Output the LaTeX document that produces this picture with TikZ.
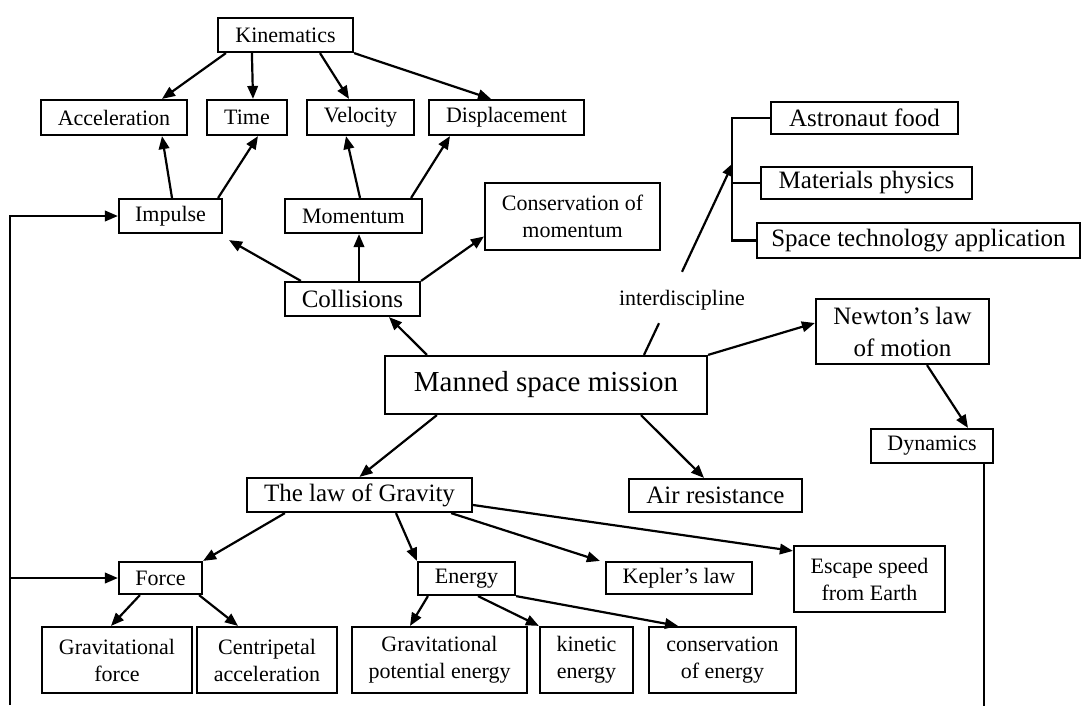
\documentclass[tikz,border=0pt]{standalone}
\usepackage{fontspec}
\setmainfont{Liberation Serif}
\usetikzlibrary{arrows.meta}

\tikzset{
    box/.style={draw, line width=2.2pt, inner sep=0pt, align=center,
        font=\fontsize{22}{27}\selectfont},
    bigbox/.style={box, font=\fontsize{25}{32}\selectfont},
    arr/.style={line width=2.2pt, -{Triangle[length=13pt,width=10.5pt]}},
    link/.style={line width=2.2pt},
}

\begin{document}
\begin{tikzpicture}[x=1pt, y=-1pt]
    \useasboundingbox (0,0) rectangle (1083,705);

    % Central node
    \node[box, font=\fontsize{29}{34}\selectfont, minimum width=322pt, minimum height=58pt] (main) at (546,385) {Manned space mission};

    % Kinematics branch
    \node[box, minimum width=135pt, minimum height=34pt] (kin) at (285.5,35) {Kinematics};
    \node[box, minimum width=146pt, minimum height=35pt] (acc) at (114,117.5) {Acceleration};
    \node[box, minimum width=80pt, minimum height=35pt] (time) at (247,117.5) {Time};
    \node[box, minimum width=107pt, minimum height=35pt] (vel) at (360.5,117.5) {Velocity};
    \node[box, minimum width=155pt, minimum height=35pt] (disp) at (506.5,117.5) {Displacement};
    \node[box, minimum width=103pt, minimum height=34pt] (imp) at (170.5,216) {Impulse};
    \node[box, minimum width=137pt, minimum height=34pt] (mom) at (353.5,216) {Momentum};
    \node[box, minimum width=175pt, minimum height=67pt] (cons) at (572.5,216.5) {Conservation of\\momentum};
    \node[bigbox, minimum width=135pt, minimum height=34pt] (coll) at (352.5,299) {Collisions};

    % Interdiscipline branch
    \node[bigbox, minimum width=187pt, minimum height=32pt] (food) at (864.5,118) {Astronaut food};
    \node[bigbox, minimum width=211pt, minimum height=32pt] (mat) at (866.5,183) {Materials physics};
    \node[bigbox, minimum width=323pt, minimum height=35pt] (tech) at (918.5,240.5) {Space technology application};
    \node[font=\fontsize{22}{26}\selectfont, inner sep=0pt] (inter) at (682,300) {interdiscipline};
    \coordinate (brk) at (733,163);

    % Dynamics branch
    \node[bigbox, minimum width=173pt, minimum height=65pt] (newton) at (902.5,331.5) {Newton’s law\\of motion};
    \node[box, minimum width=122pt, minimum height=34pt] (dyn) at (932,446) {Dynamics};
    \node[bigbox, minimum width=173pt, minimum height=33pt] (air) at (715.5,495.5) {Air resistance};

    % Gravity branch
    \node[bigbox, minimum width=225pt, minimum height=34pt] (grav) at (359.5,495) {The law of Gravity};
    \node[box, minimum width=83pt, minimum height=32pt] (force) at (160.5,578) {Force};
    \node[box, minimum width=97pt, minimum height=33pt] (energy) at (466.5,578.5) {Energy};
    \node[box, minimum width=146pt, minimum height=32pt] (kepler) at (679,578) {Kepler’s law};
    \node[box, minimum width=151pt, minimum height=66pt] (escape) at (869.5,579) {Escape speed\\from Earth};
    \node[box, minimum width=150pt, minimum height=66pt] (gforce) at (117,660) {Gravitational\\force};
    \node[box, minimum width=140pt, minimum height=66pt] (centr) at (267,660) {Centripetal\\acceleration};
    \node[box, minimum width=175pt, minimum height=66pt] (gpot) at (439.5,660) {Gravitational\\potential energy};
    \node[box, minimum width=93pt, minimum height=66pt] (kinetic) at (586.5,660) {kinetic\\energy};
    \node[box, minimum width=147pt, minimum height=66pt] (conserve) at (722.5,660) {conservation\\of energy};

    % Kinematics arrows
    \draw[arr] ([xshift=9pt]kin.south west) -- ([xshift=48pt]acc.north);
    \draw[arr] ([xshift=35pt]kin.south west) -- ([xshift=6pt]time.north);
    \draw[arr] ([xshift=34.5pt]kin.south) -- ([xshift=-11.5pt]vel.north);
    \draw[arr] (kin.south east) -- ([xshift=-15.5pt]disp.north);
    \draw[arr] ([xshift=1.5pt]imp.north) -- ([xshift=48pt]acc.south);
    \draw[arr] ([xshift=-5pt]imp.north east) -- ([xshift=11pt]time.south);
    \draw[arr] ([xshift=6.5pt]mom.north) -- ([xshift=-14.5pt]vel.south);
    \draw[arr] ([xshift=-12pt]mom.north east) -- ([xshift=-56.5pt]disp.south);

    % Collisions arrows
    \draw[arr] ([xshift=17pt]coll.north west) -- ([xshift=6pt,yshift=-6pt]imp.south east);
    \draw[arr] ([xshift=6.5pt]coll.north) -- ([xshift=5.5pt]mom.south);
    \draw[arr] (coll.north east) -- ([yshift=-20pt]cons.west);
    \draw[arr] ([xshift=43pt]main.north west) -- ([xshift=36.5pt]coll.south);

    % Interdiscipline
    \draw[link] ([xshift=98pt]main.north) -- ([xshift=-23pt,yshift=-13pt]inter.south);
    \draw[arr] ([yshift=18pt]inter.north) -- (brk);
    \draw[link] (food.west) -- ++(-38,0) |- (tech.west);
    \draw[link] (mat.west) -- ++(-28,0);

    % Right side
    \draw[arr] (main.north east) -- ([yshift=8.5pt]newton.west);
    \draw[arr] ([xshift=24.5pt]newton.south) -- ([xshift=36pt]dyn.north);
    \draw[arr] ([xshift=95pt]main.south) -- ([xshift=-11.5pt]air.north);
    \draw[link] ([xshift=-10pt]dyn.south east) -- ++(0,242);

    % Gravity arrows
    \draw[arr] ([xshift=53pt]main.south west) -- (grav.north);
    \draw[arr] ([xshift=39pt]grav.south west) -- (force.north east);
    \draw[arr] ([xshift=36.5pt]grav.south) -- (energy.north west);
    \draw[arr] ([xshift=-22pt]grav.south east) -- ([xshift=-5pt]kepler.north west);
    \draw[arr] ([yshift=-10pt]grav.east) -- ([yshift=-6pt]escape.north west);
    \draw[arr] ([xshift=22pt]force.south west) -- ([xshift=-6pt]gforce.north);
    \draw[arr] ([xshift=-4pt]force.south east) -- ([xshift=-29pt]centr.north);
    \draw[arr] ([xshift=11pt]energy.south west) -- ([xshift=-29.5pt]gpot.north);
    \draw[arr] ([xshift=11.5pt]energy.south) -- (kinetic.north west);
    \draw[arr] (energy.south east) -- ([xshift=-44.5pt]conserve.north);

    % Feedback line on the left
    \coordinate (lb) at (10,705);
    \draw[arr] (lb) |- (imp.west);
    \draw[arr] (lb |- force.west) -- (force.west);

\end{tikzpicture}
\end{document}
